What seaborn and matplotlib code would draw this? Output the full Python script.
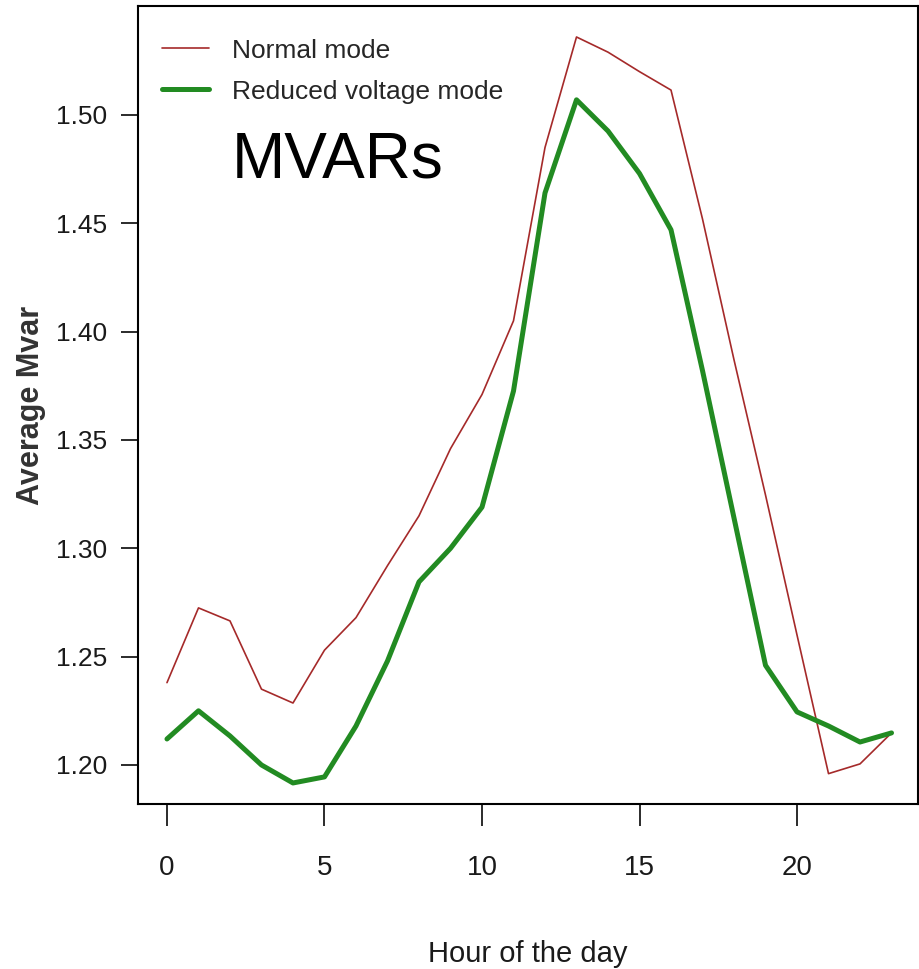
import pandas as pd
import seaborn as sns
import matplotlib.pyplot as plt
from matplotlib.lines import Line2D

# hourly averages
hours = list(range(24))
normal_mode = [1.238, 1.2725, 1.2665, 1.235, 1.2286, 1.253, 1.268, 1.292,
               1.315, 1.346, 1.371, 1.405, 1.485, 1.536, 1.529, 1.520,
               1.5115, 1.452, 1.387, 1.3246, 1.260, 1.196, 1.2005, 1.2148]
reduced_mode = [1.212, 1.225, 1.2134, 1.200, 1.1917, 1.1945, 1.218, 1.248,
                1.2845, 1.300, 1.319, 1.3726, 1.464, 1.507, 1.4926, 1.473,
                1.447, 1.382, 1.314, 1.246, 1.2245, 1.218, 1.2106, 1.2148]
x_ticks = [0, 5, 10, 15, 20]
y_ticks = [1.20, 1.25, 1.30, 1.35, 1.40, 1.45, 1.50]

df = pd.DataFrame({'hour': hours, 'Normal mode': normal_mode,
                   'Reduced voltage mode': reduced_mode})

sns.set_style("white")
plt.rcParams['font.family'] = ['Liberation Sans', 'DejaVu Sans']

fig = plt.figure(figsize=(9.2, 9.69), dpi=100)
ax = fig.add_axes([0.15, 0.1703, 0.8478, 0.8235])

red = '#a52a2a'
green = '#228b22'
sns.lineplot(data=df, x='hour', y='Normal mode', color=red, linewidth=1.2, ax=ax)
sns.lineplot(data=df, x='hour', y='Reduced voltage mode', color=green, linewidth=3.6, ax=ax)

ax.set_xlim(-0.92, 23.84)
ax.set_ylim(1.182, 1.5503)
ax.set_xticks(x_ticks)
ax.set_yticks(y_ticks)
ax.set_xticklabels([str(t) for t in x_ticks])
ax.set_yticklabels([f'{t:.2f}' for t in y_ticks])
ax.tick_params(axis='x', direction='out', length=16, width=1.3, pad=21,
               labelsize=20, colors='#1a1a1a', bottom=True)
ax.tick_params(axis='y', direction='out', length=12, width=1.3, pad=10,
               labelsize=19, colors='#1a1a1a', left=True)

for sp in ax.spines.values():
    sp.set_visible(True)
    sp.set_color('black')
    sp.set_linewidth(1.5)

ax.set_xlabel('Hour of the day', fontsize=21, color='#1a1a1a', labelpad=42)
ax.set_ylabel('Average Mvar', fontsize=22, color='#333333', fontweight='bold',
              labelpad=7)

handles = [Line2D([], [], color=red, linewidth=1.2),
           Line2D([], [], color=green, linewidth=3.6)]
ax.legend(handles, ['Normal mode', 'Reduced voltage mode'], loc='upper left',
          bbox_to_anchor=(0.0, 0.989), frameon=False, fontsize=19,
          handlelength=1.8, handletextpad=0.85, labelspacing=0.65)

ax.text(0.1205, 0.7857, 'MVARs', transform=ax.transAxes, fontsize=46,
        color='black', va='baseline')

fig.savefig('out.png', dpi=100)
